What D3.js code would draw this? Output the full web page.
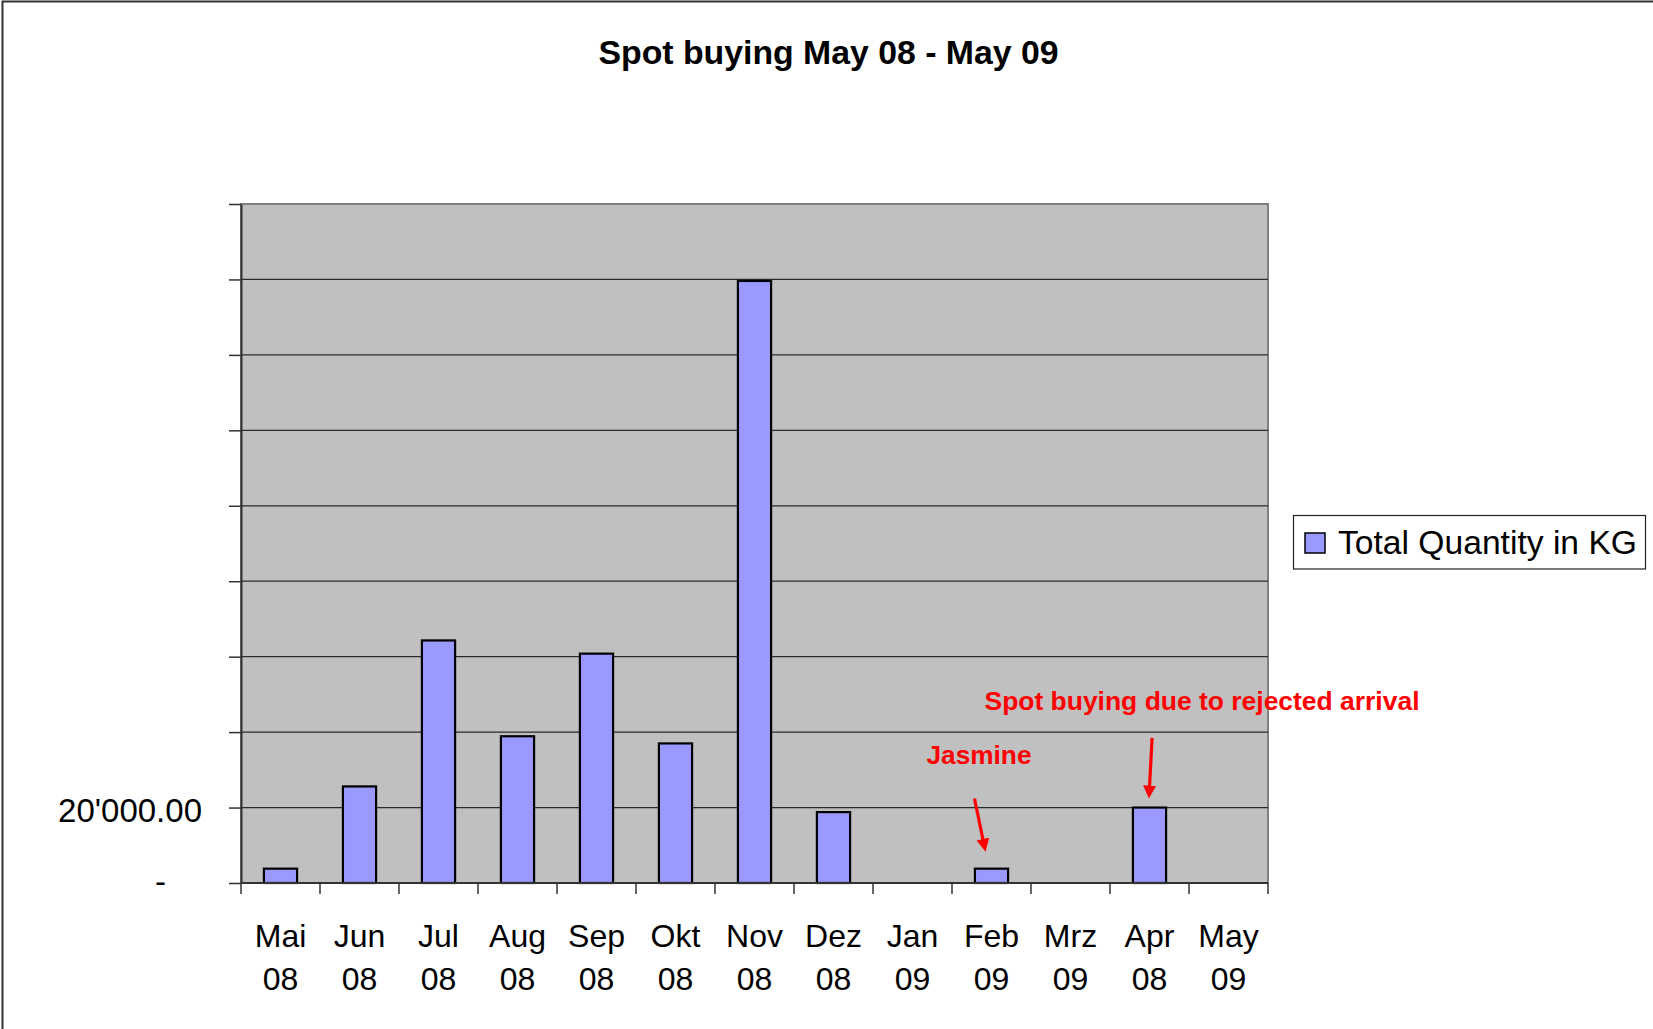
<!DOCTYPE html>
<html>
<head>
<meta charset="utf-8">
<script src="https://cdn.jsdelivr.net/npm/d3@7"></script>
<style>
  body { margin: 0; background: #fff; }
  svg { display: block; font-family: "Liberation Sans", Arial, sans-serif; }
</style>
</head>
<body>
<div id="chart"></div>
<script>
// data
const months = ["Mai 08", "Jun 08", "Jul 08", "Aug 08", "Sep 08", "Okt 08", "Nov 08",
  "Dez 08", "Jan 09", "Feb 09", "Mrz 09", "Apr 08", "May 09"];
const quantities = [3800, 25600, 64300, 38900, 60800, 37000, 159600,
  18800, 0, 3800, 0, 20000, 0];
const yTicks = [0, 20000, 40000, 60000, 80000, 100000, 120000, 140000, 160000, 180000];
const labeledTicks = [0, 20000];
const tickLabels = ["-", "20'000.00"];
const seriesName = "Total Quantity in KG";
const title = "Spot buying May 08 - May 09";
const noteMonths = ["Feb 09", "Apr 08"];
const noteTexts = ["Jasmine", "Spot buying due to rejected arrival"];

const width = 1653, height = 1029;
const margin = { top: 204, right: 385, bottom: 146, left: 241 };
const innerW = width - margin.left - margin.right;
const innerH = height - margin.top - margin.bottom;

const svg = d3.select("#chart").append("svg")
  .attr("width", width)
  .attr("height", height);

// outer frame
svg.append("rect")
  .attr("x", 2.5).attr("y", 1.5)
  .attr("width", 1700).attr("height", 1100)
  .attr("fill", "none").attr("stroke", "#333").attr("stroke-width", 2);

svg.append("text")
  .attr("x", 828.5).attr("y", 64)
  .attr("text-anchor", "middle")
  .attr("font-weight", "bold").attr("font-size", 34)
  .attr("textLength", 460).attr("lengthAdjust", "spacingAndGlyphs")
  .text(title);

const x = d3.scaleBand()
  .domain(months)
  .range([0, innerW])
  .paddingInner(0.58)
  .paddingOuter(0.29);

const y = d3.scaleLinear()
  .domain([0, 180000])
  .range([innerH, 0]);

const g = svg.append("g")
  .attr("transform", `translate(${margin.left},${margin.top})`);

// plot area
g.append("rect")
  .attr("width", innerW).attr("height", innerH)
  .attr("fill", "#c0c0c0").attr("stroke", "#808080").attr("stroke-width", 2);

// gridlines
g.selectAll(".grid")
  .data(yTicks.filter(d => d > 0 && d < 180000))
  .join("line")
  .attr("class", "grid")
  .attr("x1", 0).attr("x2", innerW)
  .attr("y1", d => y(d)).attr("y2", d => y(d))
  .attr("stroke", "#2a2a2a").attr("stroke-width", 1.3);

// bars
g.selectAll(".bar")
  .data(quantities)
  .join("rect")
  .attr("class", "bar")
  .attr("x", (d, i) => x(months[i]))
  .attr("y", d => y(d))
  .attr("width", x.bandwidth())
  .attr("height", d => innerH - y(d))
  .attr("fill", d => d > 0 ? "#9999ff" : "none")
  .attr("stroke", d => d > 0 ? "#000" : "none")
  .attr("stroke-width", 2.2);

// y axis
const yAxis = d3.axisLeft(y)
  .tickValues(yTicks)
  .tickSize(12)
  .tickSizeOuter(0)
  .tickPadding(27)
  .tickFormat(d => {
    const i = labeledTicks.indexOf(d);
    return i < 0 ? "" : tickLabels[i];
  });

const yG = g.append("g").call(yAxis);
yG.select(".domain").attr("stroke", "#333").attr("stroke-width", 2);
yG.selectAll(".tick line").attr("stroke", "#333").attr("stroke-width", 1.5);
yG.selectAll(".tick text")
  .attr("font-family", "Liberation Sans, Arial, sans-serif")
  .attr("font-size", 33)
  .attr("fill", "#000")
  .attr("dy", "0.42em");
yG.selectAll(".tick text").filter(d => d === 0)
  .attr("dx", -36)
  .attr("dy", "0.28em");

// x axis line and category boundary ticks
g.append("line")
  .attr("x1", 0).attr("x2", innerW)
  .attr("y1", innerH).attr("y2", innerH)
  .attr("stroke", "#333").attr("stroke-width", 2);

g.selectAll(".xtick")
  .data(d3.range(months.length + 1))
  .join("line")
  .attr("class", "xtick")
  .attr("x1", i => i * x.step()).attr("x2", i => i * x.step())
  .attr("y1", innerH).attr("y2", innerH + 11)
  .attr("stroke", "#333").attr("stroke-width", 1.5);

const labels = g.selectAll(".xlabel")
  .data(months)
  .join("text")
  .attr("class", "xlabel")
  .attr("text-anchor", "middle")
  .attr("font-size", 32)
  .attr("fill", "#000");

labels.selectAll("tspan")
  .data(d => d.split(" ").map(s => ({ s, m: d })))
  .join("tspan")
  .attr("x", d => x(d.m) + x.bandwidth() / 2)
  .attr("y", (d, i) => innerH + 64 + i * 43)
  .text(d => d.s);

// legend
const legend = svg.append("g");
legend.append("rect")
  .attr("x", 1293.5).attr("y", 515.5)
  .attr("width", 352).attr("height", 53.5)
  .attr("fill", "#fff").attr("stroke", "#222").attr("stroke-width", 1.2);
legend.append("rect")
  .attr("x", 1305).attr("y", 533)
  .attr("width", 20).attr("height", 20)
  .attr("fill", "#9999ff").attr("stroke", "#000").attr("stroke-width", 1.5);
legend.append("text")
  .attr("x", 1338).attr("y", 554)
  .attr("font-size", 33)
  .attr("textLength", 299).attr("lengthAdjust", "spacingAndGlyphs")
  .text(seriesName);

// annotations, placed relative to the bar they point at
svg.append("defs").append("marker")
  .attr("id", "arrow")
  .attr("viewBox", "0 0 13 13")
  .attr("refX", 4).attr("refY", 6.5)
  .attr("markerWidth", 13).attr("markerHeight", 13)
  .attr("markerUnits", "userSpaceOnUse")
  .attr("orient", "auto")
  .append("path")
  .attr("d", "M0,0L13,6.5L0,13Z")
  .attr("fill", "#ff0000");

const noteLayout = [
  { tx: -65, ty: -105, len: 105, sx: -17, sy: -70, ex: -6, ey: -17 },
  { tx: -165, ty: -98, len: 435, sx: 2.6, sy: -69.6, ex: -0.6, ey: -9 }
];

noteMonths.forEach((m, i) => {
  const cx = x(m) + x.bandwidth() / 2;
  const cy = y(quantities[months.indexOf(m)]);
  const L = noteLayout[i];
  g.append("text")
    .attr("x", cx + L.tx).attr("y", cy + L.ty)
    .attr("font-weight", "bold").attr("font-size", 26)
    .attr("fill", "#ff0000")
    .attr("textLength", L.len).attr("lengthAdjust", "spacingAndGlyphs")
    .text(noteTexts[i]);
  const x1 = cx + L.sx, y1 = cy + L.sy, x2 = cx + L.ex, y2 = cy + L.ey;
  const len = Math.hypot(x2 - x1, y2 - y1);
  g.append("line")
    .attr("x1", x1).attr("y1", y1)
    .attr("x2", x2 - (x2 - x1) / len * 9)
    .attr("y2", y2 - (y2 - y1) / len * 9)
    .attr("stroke", "#ff0000").attr("stroke-width", 3.2)
    .attr("marker-end", "url(#arrow)");
});
</script>
</body>
</html>
